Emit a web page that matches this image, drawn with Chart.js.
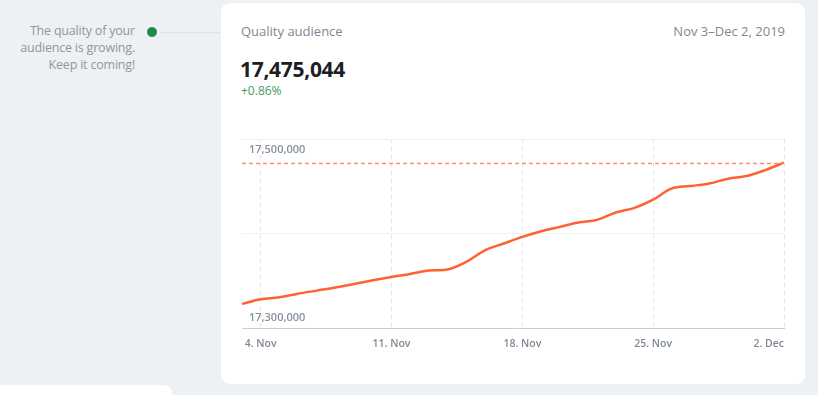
<!DOCTYPE html>
<html>
<head>
<meta charset="utf-8">
<script src="https://cdn.jsdelivr.net/npm/chart.js@4"></script>
<style>
  html, body { margin: 0; padding: 0; }
  body {
    width: 818px; height: 395px; overflow: hidden; position: relative;
    background: #eef1f4; font-family: "Open Sans", sans-serif;
  }
  .note {
    position: absolute; right: 683px; top: 22px; text-align: right;
    font-size: 12.5px; line-height: 17px; color: #8c97a3; letter-spacing: -0.2px;
  }
  .dot {
    position: absolute; left: 146px; top: 26px; width: 10px; height: 10px;
    border-radius: 50%; background: #1e8a4c; border: 1.5px solid #fff;
  }
  .link { position: absolute; left: 160px; top: 32px; width: 61px; height: 1px; background: #dfe3e8; }
  .card {
    position: absolute; left: 221px; top: 3px; width: 584px; height: 381px;
    background: #fff; border-radius: 9px;
  }
  .card2 {
    position: absolute; left: 0; top: 385px; width: 172px; height: 30px;
    background: #fff; border-radius: 0 8px 0 0;
  }
  .title { position: absolute; left: 20px; top: 19px; font-size: 13px; color: #7d8895; }
  .range { position: absolute; right: 20px; top: 19px; font-size: 13px; color: #7d8895; }
  .big { position: absolute; left: 19px; top: 52px; font-size: 21px; font-weight: 700; color: #1c2024; letter-spacing: -0.3px; }
  .pct { position: absolute; left: 20px; top: 79px; font-size: 12px; color: #3f9c63; }
  canvas { position: absolute; left: 233px; top: 134px; }
</style>
</head>
<body>
<div class="note">The quality of your<br>audience is growing.<br>Keep it coming!</div>
<div class="link"></div>
<div class="dot"></div>
<div class="card">
  <div class="title">Quality audience</div>
  <div class="range">Nov 3–Dec 2, 2019</div>
  <div class="big">17,475,044</div>
  <div class="pct">+0.86%</div>
</div>
<div class="card2"></div>
<canvas id="chart" width="560" height="225"></canvas>
<script>
const days = [
  '3. Nov', '4. Nov', '5. Nov', '6. Nov', '7. Nov', '8. Nov', '9. Nov', '10. Nov',
  '11. Nov', '12. Nov', '13. Nov', '14. Nov', '15. Nov', '16. Nov', '17. Nov', '18. Nov',
  '19. Nov', '20. Nov', '21. Nov', '22. Nov', '23. Nov', '24. Nov', '25. Nov', '26. Nov',
  '27. Nov', '28. Nov', '29. Nov', '30. Nov', '1. Dec', '2. Dec'
];
const shownTicks = ['4. Nov', '11. Nov', '18. Nov', '25. Nov', '2. Dec'];
const audience = [
  17325900, 17330700, 17332800, 17336700, 17339900, 17343100, 17346900, 17350800,
  17354300, 17357500, 17361100, 17362100, 17370200, 17382500, 17389600, 17396600,
  17402600, 17407200, 17411900, 17414600, 17422400, 17427300, 17436000, 17447800,
  17450300, 17453100, 17458000, 17460900, 17467200, 17475044
];
const yLabels = [17500000, 17300000];
const yMin = 17300000, yMax = 17500000;

// dashed line at the latest value
const lastLine = {
  id: 'lastLine',
  afterDatasetsDraw(chart) {
    const { ctx, chartArea } = chart;
    const y = Math.round(chart.scales.y.getPixelForValue(audience[audience.length - 1])) + 0.5;
    ctx.save();
    ctx.globalAlpha = 1;
    ctx.strokeStyle = '#ff8a63';
    ctx.lineWidth = 1.3;
    ctx.setLineDash([4, 3]);
    ctx.beginPath();
    ctx.moveTo(chartArea.left, y);
    ctx.lineTo(chartArea.right, y);
    ctx.stroke();
    ctx.restore();
  }
};

// y labels sit inside the plot, below the top line and above the bottom one
const insideLabels = {
  id: 'insideLabels',
  afterDraw(chart) {
    const { ctx, chartArea } = chart;
    ctx.save();
    ctx.font = '600 11px "Open Sans"';
    ctx.fillStyle = '#87919c';
    ctx.textAlign = 'left';
    yLabels.forEach(v => {
      const y = chart.scales.y.getPixelForValue(v);
      const txt = v.toLocaleString('en-US');
      if (v === yMax) {
        ctx.textBaseline = 'top';
        ctx.fillText(txt, chartArea.left + 7, y + 5);
      } else {
        ctx.textBaseline = 'bottom';
        ctx.fillText(txt, chartArea.left + 7, y - 5);
      }
    });
    ctx.restore();
  }
};

new Chart(document.getElementById('chart').getContext('2d'), {
  type: 'line',
  data: {
    labels: days,
    datasets: [{
      data: audience,
      borderColor: '#ff6232',
      borderWidth: 2.5,
      pointRadius: 0,
      tension: 0.35,
      fill: false
    }]
  },
  options: {
    responsive: false,
    animation: false,
    devicePixelRatio: 1,
    layout: { padding: { left: 5, right: 5, top: 5, bottom: 0 } },
    plugins: { legend: { display: false }, tooltip: { enabled: false } },
    scales: {
      x: {
        grid: {
          drawTicks: false,
          color: ctx => shownTicks.includes(days[ctx.index]) ? '#e2e6ea' : 'rgba(0,0,0,0)'
        },
        border: { display: true, color: '#c8cfd7', dash: [4, 4] },
        ticks: {
          autoSkip: false,
          maxRotation: 0,
          align: 'inner',
          padding: 9,
          color: '#7f8995',
          font: { family: '"Open Sans"', size: 10.5, weight: '600' },
          callback: function (val) {
            const l = this.getLabelForValue(val);
            return shownTicks.includes(l) ? l : '';
          }
        }
      },
      y: {
        min: yMin,
        max: yMax,
        border: { display: false },
        grid: {
          drawTicks: false,
          color: ctx => ctx.tick.value === yMin ? 'rgba(0,0,0,0)' : '#eff1f4'
        },
        ticks: { display: false, stepSize: 100000 }
      }
    }
  },
  plugins: [lastLine, insideLabels]
});
</script>
</body>
</html>
